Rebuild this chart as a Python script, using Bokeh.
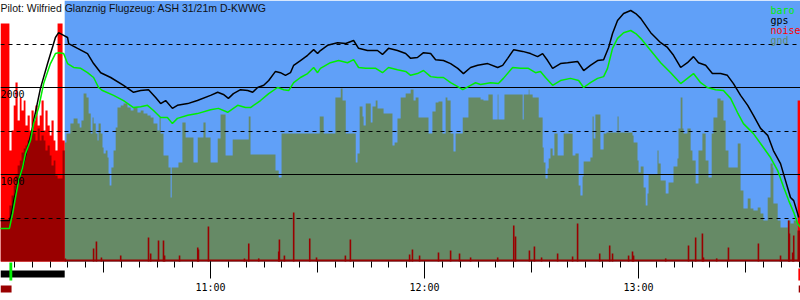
from bokeh.plotting import figure
from bokeh.models import Range1d, FixedTicker, LinearAxis, Grid, BoxAnnotation
from bokeh.core.properties import value
from bokeh.embed import file_html
from bokeh.resources import INLINE

TITLE = "Pilot: Wilfried Glanznig Flugzeug: ASH 31/21m D-KWWG"

# ---------------- data (time = minutes after 10:00, altitude in m) ----------------
gps_t = [1.1, 3.6, 3.9, 4.5, 4.8, 5.3, 6.2, 7.6, 8.7, 10.1,
         10.4, 12.3, 14.3, 16.5, 17.4, 18.8, 19.9, 20.2, 22.7, 25.5,
         27.2, 29.2, 32.0, 35.6, 38.4, 40.4, 42.6, 44.6, 46.0, 47.4,
         49.3, 50.7, 53.6, 56.3, 60.0, 62.0, 63.6, 65.0, 66.4, 68.4,
         70.4, 71.8, 73.2, 74.9, 76.3, 78.2, 79.6, 81.0, 82.4, 83.3,
         85.2, 87.2, 88.9, 90.0, 90.8, 92.8, 95.6, 97.9, 100.1, 101.5,
         104.0, 106.8, 108.2, 109.9, 112.4, 114.7, 116.1, 118.0, 119.7, 121.7,
         123.1, 125.3, 127.3, 129.3, 130.9, 132.9, 134.9, 137.7, 140.5, 141.9,
         143.3, 145.0, 147.5, 149.7, 151.7, 153.1, 154.5, 155.9, 158.1, 160.1,
         162.9, 164.6, 166.5, 168.5, 170.2, 171.6, 172.7, 174.1, 175.8, 177.8,
         179.2, 180.6, 183.4, 186.2, 188.1, 189.8, 191.8, 193.7, 195.4, 196.8,
         198.8, 200.7, 203.0, 204.9, 206.6, 208.6, 210.6, 212.2, 214.2, 216.2,
         217.8, 219.8, 221.2, 222.6, 223.5, 224.6, 224.9]
gps_alt = [470, 470, 505, 620, 700, 780, 930, 1125, 1310, 1540,
           1620, 1990, 2275, 2575, 2630, 2600, 2575, 2505, 2450, 2390,
           2275, 2170, 2115, 2025, 1945, 1965, 1975, 1885, 1815, 1850,
           1760, 1795, 1815, 1850, 1910, 1945, 1920, 1875, 1930, 1975,
           1965, 1945, 2000, 2025, 2080, 2185, 2170, 2140, 2170, 2255,
           2310, 2370, 2435, 2390, 2425, 2485, 2515, 2505, 2540, 2450,
           2425, 2425, 2380, 2450, 2425, 2390, 2335, 2345, 2400, 2390,
           2320, 2310, 2275, 2220, 2160, 2230, 2255, 2275, 2230, 2255,
           2335, 2435, 2415, 2390, 2355, 2390, 2310, 2220, 2275, 2285,
           2300, 2195, 2255, 2310, 2320, 2460, 2620, 2770, 2850, 2885,
           2850, 2795, 2630, 2515, 2460, 2370, 2230, 2285, 2355, 2285,
           2255, 2160, 2160, 2140, 2045, 1910, 1795, 1680, 1530, 1450,
           1275, 1125, 930, 735, 700, 550, 505]

baro_t = [1.1, 3.6, 4.5, 5.3, 6.2, 7.3, 8.1, 9.5, 10.4, 11.8,
          13.2, 15.1, 16.5, 17.4, 18.8, 19.9, 21.6, 23.6, 25.5, 27.2,
          28.6, 29.7, 32.8, 35.6, 38.4, 40.4, 42.3, 44.0, 46.0, 47.9,
          49.3, 50.7, 53.6, 56.3, 60.0, 62.2, 64.8, 67.6, 69.8, 71.2,
          74.0, 76.3, 78.8, 80.5, 81.9, 83.3, 85.2, 87.2, 88.9, 90.0,
          90.8, 93.6, 95.9, 98.4, 100.1, 101.5, 103.5, 106.3, 108.2, 109.9,
          112.4, 114.7, 116.1, 118.0, 119.7, 121.7, 123.6, 125.3, 127.3, 129.3,
          130.7, 132.9, 134.3, 135.7, 138.5, 140.7, 142.1, 144.7, 146.9, 149.1,
          151.1, 152.5, 153.9, 155.9, 158.1, 160.9, 163.2, 164.6, 166.5, 168.5,
          170.2, 171.3, 172.7, 174.1, 175.8, 177.8, 179.2, 180.6, 183.4, 186.2,
          189.0, 191.8, 193.7, 195.4, 197.4, 199.3, 201.6, 203.8, 205.8, 207.7,
          209.4, 212.2, 215.0, 217.0, 219.0, 220.7, 222.1, 223.5, 224.6, 225.4]
baro_alt = [380, 380, 550, 735, 930, 1080, 1240, 1390, 1585, 1770,
            2045, 2275, 2390, 2400, 2390, 2275, 2230, 2220, 2170, 2115,
            2000, 1965, 1910, 1850, 1770, 1780, 1795, 1735, 1655, 1655,
            1585, 1645, 1680, 1700, 1745, 1760, 1715, 1795, 1770, 1770,
            1850, 1930, 2000, 1975, 1965, 2055, 2115, 2160, 2230, 2170,
            2220, 2285, 2310, 2285, 2320, 2230, 2220, 2220, 2170, 2230,
            2205, 2185, 2140, 2160, 2195, 2125, 2115, 2115, 2055, 2010,
            1975, 2025, 2055, 2035, 2055, 2045, 2105, 2230, 2220, 2220,
            2170, 2185, 2115, 2025, 2080, 2105, 2080, 2000, 2055, 2105,
            2125, 2220, 2450, 2565, 2630, 2655, 2620, 2565, 2425, 2285,
            2170, 2045, 2105, 2160, 2055, 2000, 1975, 1965, 1875, 1715,
            1585, 1470, 1310, 1195, 1045, 850, 700, 565, 435, 390]

gnd_t = [19.1, 19.6, 20.7, 21.6, 22.7, 23.3, 23.8, 24.4, 25.2, 25.8,
         26.4, 26.9, 27.2, 27.8, 28.3, 28.6, 29.2, 29.7, 30.0, 30.6,
         31.1, 31.4, 31.7, 32.2, 32.8, 33.4, 33.9, 34.8, 35.6, 36.7,
         37.6, 38.4, 39.5, 40.4, 41.2, 42.3, 43.2, 44.0, 45.1, 45.7,
         46.0, 46.8, 48.2, 48.8, 49.1, 51.0, 52.1, 53.0, 55.2, 56.4,
         58.0, 58.6, 60.0, 62.0, 62.8, 64.2, 66.2, 70.7, 71.2, 78.2,
         79.1, 79.9, 90.6, 91.7, 95.0, 96.5, 97.0, 97.9, 100.7, 101.2,
         101.8, 102.6, 102.9, 103.5, 104.9, 105.4, 106.3, 106.8, 108.5, 111.0,
         111.6, 112.4, 113.3, 114.7, 116.1, 116.9, 117.5, 118.3, 121.1, 122.2,
         123.1, 123.9, 125.0, 125.9, 126.4, 127.3, 128.1, 128.7, 130.7, 132.3,
         135.7, 136.5, 137.9, 139.1, 140.5, 140.7, 142.4, 147.5, 147.8, 149.2,
         149.4, 150.3, 152.0, 153.1, 153.4, 153.9, 154.5, 154.8, 155.3, 155.9,
         156.4, 157.3, 159.0, 161.5, 162.3, 163.2, 163.7, 164.3, 164.6, 166.5,
         167.1, 167.4, 167.9, 169.3, 170.2, 171.0, 174.1, 174.4, 178.3, 178.6,
         179.7, 180.0, 180.6, 181.4, 182.0, 182.5, 182.8, 185.3, 185.6, 186.2,
         187.6, 188.4, 189.8, 190.9, 191.2, 191.8, 192.3, 192.6, 193.7, 194.6,
         195.1, 196.0, 196.8, 197.9, 198.8, 199.6, 200.5, 201.0, 202.1, 203.0,
         203.8, 204.4, 205.2, 207.8, 208.6, 209.4, 210.6, 211.4, 212.2, 213.4,
         214.2, 215.0, 216.2, 217.0, 217.6, 217.8, 219.0, 219.8, 221.8, 222.6,
         223.5, 224.6]
gnd_alt = [1368, 1471, 1586, 1644, 1586, 1540, 1621, 1931, 1885, 1701,
           1471, 1655, 1586, 1471, 1391, 1586, 1471, 1310, 1241, 1276,
           1195, 1012, 874, 1080, 1276, 1540, 1770, 1793, 1816, 1770,
           1736, 1770, 1713, 1736, 1701, 1678, 1655, 1586, 1506, 1655,
           1471, 1218, 1080, 736, 1080, 1138, 1598, 1425, 1138, 1425,
           1598, 1425, 1138, 1414, 1690, 1218, 1402, 1667, 1230, 1046,
           966, 1471, 1667, 1471, 1885, 1989, 1851, 1471, 1138, 1241,
           1782, 1667, 1563, 1816, 1598, 1782, 1851, 1759, 1701, 1333,
           1368, 1644, 1885, 1931, 1977, 1851, 1885, 1655, 1471, 1724,
           1828, 1839, 1471, 1885, 1851, 1471, 1264, 1471, 1655, 1885,
           1862, 1851, 1920, 1632, 1920, 1632, 1920, 1632, 1920, 1977,
           1920, 1885, 1655, 1310, 1138, 954, 1069, 1184, 1299, 1218,
           1471, 1218, 1471, 1218, 1241, 874, 759, 977, 1149, 1195,
           1667, 1414, 1690, 1287, 1471, 1483, 1667, 1483, 1448, 1368,
           1161, 1023, 1092, 851, 644, 782, 1000, 1276, 1126, 931,
           782, 908, 1092, 1184, 1529, 1885, 1529, 1471, 1529, 1276,
           1161, 897, 1276, 1471, 1161, 966, 1471, 1655, 1874, 1851,
           1621, 1276, 1080, 1356, 816, 609, 724, 609, 586, 621,
           552, 471, 736, 1126, 1080, 667, 471, 391, 471, 437,
           471, 356]

# engine noise level (ENL, 0..1000): bins starting at these times
noise_t = [1.1, 3.6, 4.2, 4.8, 5.3, 5.9, 6.5, 7.0, 7.6, 8.1,
           8.7, 9.3, 9.8, 10.4, 10.9, 11.5, 12.1, 12.6, 13.2, 13.7,
           14.3, 14.9, 15.4, 16.0, 16.5, 17.1, 18.5, 19.1, 224.6]
noise_max = [1000, 466, 550, 655, 752, 592, 689, 634, 676, 571,
             613, 550, 634, 592, 655, 571, 613, 676, 550, 634,
             571, 529, 592, 508, 466, 1000, 508, 0, 676]
noise_mean = [172, 235, 277, 319, 361, 403, 424, 458, 475, 487,
              508, 517, 550, 538, 508, 559, 508, 529, 508, 466,
              487, 445, 403, 424, 361, 349, 466, 8, 130]
spike_t = [19.3, 27.2, 28.0, 29.4, 34.8, 42.6, 43.2, 45.4, 46.8, 47.1,
           51.3, 56.4, 56.6, 59.4, 69.5, 70.7, 73.5, 79.1, 79.3, 80.7,
           83.3, 87.8, 89.7, 97.8, 99.2, 115.8, 116.6, 118.6, 123.9, 127.3,
           129.8, 132.9, 140.5, 145.0, 145.5, 149.4, 150.8, 152.8, 157.3, 161.5,
           162.9, 169.1, 171.9, 172.7, 177.2, 178.3, 178.6, 187.6, 194.0, 196.0,
           197.9, 198.2, 201.9, 205.2, 213.6, 219.8, 222.1, 222.3, 223.2, 223.5]
spike_enl = [13, 55, 84, 17, 25, 101, 34, 88, 88, 25,
             25, 59, 50, 147, 13, 76, 13, 42, 92, 25,
             206, 97, 17, 25, 92, 29, 50, 25, 38, 46,
             34, 17, 17, 151, 105, 46, 63, 17, 34, 21,
             160, 34, 67, 34, 25, 42, 25, 13, 67, 101,
             118, 17, 13, 59, 76, 25, 172, 118, 38, 109]

# flight events (minutes after 10:00)
motor_run = [(1.1, 19.1)]
takeoff = [3.6]
landing = [224.8]
on_ground = [(1.1, 4.2), (224.9, 225.4)]

hour_ticks = [60, 120, 180]
hour_labels = ["11:00", "12:00", "13:00"]
half_hour_ticks = [30, 90, 150, 210]
alt_major = [1000, 2000]
alt_major_labels = ["1000", "2000"]
alt_minor = [500, 1500, 2500]
legend_labels = ["baro", "gps", "noise", "gnd"]

# ---------------- styling ----------------
SKY = "#60a0f8"
GND = "#668a66"
RED = "#ff0000"
DARKRED = "#990000"
BARO = "#00ee00"
legend_colors = [BARO, "black", RED, GND]
MONO = value("DejaVu Sans Mono")

W, H = 800, 300
AXIS_PX = 261          # pixel row of 0 m
TOP_ALT = 3000
ENL_TOP_PX = 23        # pixel row of ENL 1000

t_start = min(gps_t + baro_t)
t_end = max(gps_t + baro_t)
px_per_m = AXIS_PX / TOP_ALT
y_bottom = -(H - AXIS_PX) / px_per_m
enl_px = (AXIS_PX - ENL_TOP_PX) / 1000.0


def alt_at(py):
    return TOP_ALT - py / px_per_m


def t_at(px):
    return t_start + px * (t_end - t_start) / W


def steps(ts, vs, t_last):
    xs, ys = [], []
    edges = list(ts[1:]) + [t_last]
    for a, b, v in zip(ts, edges, vs):
        xs += [a, b]
        ys += [v, v]
    return xs, ys


p = figure(width=W, height=H, x_range=Range1d(t_start, t_end),
           y_range=Range1d(y_bottom, TOP_ALT),
           x_axis_type=None, y_axis_type=None, toolbar_location=None,
           output_backend="svg", min_border=0, outline_line_color=None,
           background_fill_color="white", border_fill_color="white")
p.extra_y_ranges = {"enl": Range1d(-(H - AXIS_PX) / enl_px, AXIS_PX / enl_px)}

p.add_layout(BoxAnnotation(left=gnd_t[0], bottom=0, fill_color=SKY, fill_alpha=1,
                           line_color=None, level="image"))

gx, gy = steps(gnd_t, gnd_alt, t_end)
p.varea(x=gx, y1=0, y2=gy, fill_color=GND, level="underlay")

nx, ny = steps(noise_t, noise_max, t_end)
p.varea(x=nx, y1=0, y2=ny, fill_color=RED, y_range_name="enl", level="underlay")
mx, my = steps(noise_t, noise_mean, t_end)
p.varea(x=mx, y1=0, y2=my, fill_color=DARKRED, y_range_name="enl", level="underlay")
p.vbar(x=spike_t, top=spike_enl, bottom=0, width=0.45, fill_color=DARKRED,
       line_color=None, y_range_name="enl", level="underlay")

grid = Grid(dimension=1, ticker=FixedTicker(ticks=alt_major, minor_ticks=alt_minor),
            grid_line_color="black", grid_line_width=1,
            minor_grid_line_color="black", minor_grid_line_width=1,
            minor_grid_line_dash="4 4", level="glyph")
p.add_layout(grid)

p.line(gps_t, gps_alt, line_color="black", line_width=1.5, level="guide")
p.line(baro_t, baro_alt, line_color=BARO, line_width=1.5, level="guide")

# event markers under the time axis
p.quad(left=[a for a, b in motor_run], right=[b for a, b in motor_run],
       bottom=alt_at(277), top=alt_at(270), fill_color="black", line_color=None)
p.quad(left=takeoff, right=[t + 0.8 for t in takeoff],
       bottom=alt_at(280), top=alt_at(262), fill_color=BARO, line_color=None)
p.quad(left=landing, right=[t_end] * len(landing),
       bottom=alt_at(280), top=alt_at(268), fill_color=RED, line_color=None)
p.quad(left=[a for a, b in on_ground], right=[b for a, b in on_ground],
       bottom=alt_at(292), top=alt_at(285), fill_color=DARKRED, line_color=None)

minor5 = list(range(5, int(t_end) + 1, 5))
xa = LinearAxis(ticker=FixedTicker(ticks=hour_ticks, minor_ticks=minor5),
                fixed_location=0, axis_line_color=None,
                major_tick_in=0, major_tick_out=17, minor_tick_in=0, minor_tick_out=6,
                major_tick_line_color="black", minor_tick_line_color="black",
                major_label_overrides=dict(zip(hour_ticks, hour_labels)),
                major_label_standoff=3, major_label_text_font="DejaVu Sans Mono",
                major_label_text_font_size="10px", major_label_text_color="black")
p.add_layout(xa, "below")
xb = LinearAxis(ticker=FixedTicker(ticks=half_hour_ticks, minor_ticks=[]),
                fixed_location=0, axis_line_color=None,
                major_tick_in=0, major_tick_out=11, major_tick_line_color="black",
                minor_tick_line_color=None, major_label_text_color=None)
p.add_layout(xb, "below")

p.text(x=[t_start] * len(alt_major), y=alt_major, text=alt_major_labels,
       text_align="left", text_baseline="top", y_offset=2,
       text_font=MONO, text_font_size="10px", text_color="black", level="annotation")

p.text(x=[t_start], y=[TOP_ALT], text=[TITLE], text_align="left", text_baseline="top",
       x_offset=0, y_offset=1, text_font=value("Liberation Sans"),
       text_font_size="10.5px", text_color="#111111", level="annotation")

p.text(x=[t_at(770)] * len(legend_labels),
       y=[alt_at(10 + 10 * i) for i in range(len(legend_labels))],
       text=legend_labels, text_color=legend_colors, text_align="left",
       text_baseline="alphabetic", text_font=MONO, text_font_size="10px",
       level="annotation")

open("out.html", "w").write(file_html(p, INLINE))
